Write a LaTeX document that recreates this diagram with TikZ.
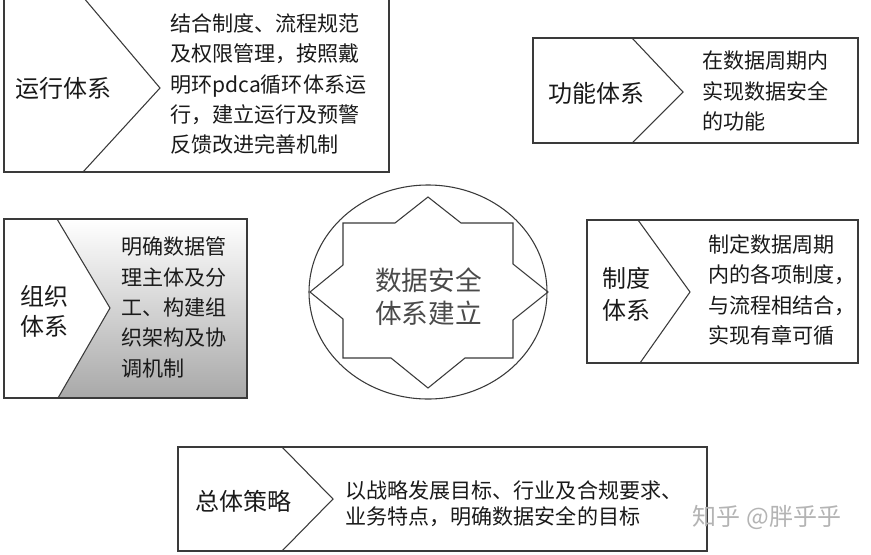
\documentclass[tikz,border=0pt]{standalone}
\usepackage{fontspec}
\newfontfamily\cjk{Noto Sans CJK SC}
\definecolor{linecol}{HTML}{3A3A3A}
\definecolor{txtcol}{HTML}{1A1A1A}
\definecolor{centcol}{HTML}{4A4A4A}
\definecolor{wmcol}{HTML}{B4B4B4}
\begin{document}
\begin{tikzpicture}[x=0.75pt,y=-0.75pt,
  boxline/.style={draw=linecol,line width=1.1pt},
  chev/.style={draw=linecol,line width=0.8pt,line join=miter},
  body/.style={anchor=west,inner sep=0pt,align=left,text=txtcol,
    font=\cjk\fontsize{15.8pt}{22.8pt}\selectfont},
  lab/.style={anchor=west,inner sep=0pt,align=left,text=txtcol,
    font=\cjk\fontsize{18pt}{22.5pt}\selectfont},
]
\useasboundingbox[fill=white] (0,0) rectangle (871,554);

% ---- box 1: 运行体系
\coordinate (b1a) at (4,-3);   \coordinate (b1b) at (389,172);
\draw[boxline] (b1a) rectangle (b1b);
\coordinate (c1t) at (83,-3); \coordinate (c1m) at (160,88); \coordinate (c1b) at (83,172);
\draw[chev] (c1t) -- (c1m) -- (c1b);
\node[lab] (l1) at (15,88) {运行体系};
\node[body] (t1) at (170,84) {结合制度、流程规范\\及权限管理，按照戴\\明环pdca循环体系运\\行，建立运行及预警\\反馈改进完善机制};

% ---- box 2: 功能体系
\coordinate (b2a) at (533,38);  \coordinate (b2b) at (858,143);
\draw[boxline] (b2a) rectangle (b2b);
\coordinate (c2t) at (632,38); \coordinate (c2m) at (683,92); \coordinate (c2b) at (632,143);
\draw[chev] (c2t) -- (c2m) -- (c2b);
\node[lab] (l2) at (548,93) {功能体系};
\node[body] (t2) at (702,91) {在数据周期内\\实现数据安全\\的功能};

% ---- box 3: 组织体系 (gradient)
\coordinate (b3a) at (4,219);  \coordinate (b3b) at (247,398);
\coordinate (c3t) at (57,219); \coordinate (c3m) at (110,308); \coordinate (c3b) at (58,398);
\shade[top color=white,bottom color=black!34] (c3t) -- (247,219) -- (247,398) -- (c3b) -- (c3m) -- cycle;
\draw[boxline] (b3a) rectangle (b3b);
\draw[chev] (c3t) -- (c3m) -- (c3b);
\node[lab] (l3) at (20,311) {组织\\体系};
\node[body] (t3) at (121,307.5) {明确数据管\\理主体及分\\工、构建组\\织架构及协\\调机制};

% ---- box 4: 制度体系
\coordinate (b4a) at (587,220);  \coordinate (b4b) at (858,363);
\draw[boxline] (b4a) rectangle (b4b);
\coordinate (c4t) at (638,220); \coordinate (c4m) at (690,292); \coordinate (c4b) at (640,363);
\draw[chev] (c4t) -- (c4m) -- (c4b);
\node[lab,font=\cjk\fontsize{18pt}{24pt}\selectfont] (l4) at (602,294) {制度\\体系};
\node[body] (t4) at (708,290) {制定数据周期\\内的各项制度，\\与流程相结合，\\实现有章可循};

% ---- box 5: 总体策略
\coordinate (b5a) at (178,447);  \coordinate (b5b) at (707,551);
\draw[boxline] (b5a) rectangle (b5b);
\coordinate (c5t) at (282,447); \coordinate (c5m) at (333,499); \coordinate (c5b) at (282,551);
\draw[chev] (c5t) -- (c5m) -- (c5b);
\node[lab] (l5) at (195,501) {总体策略};
\node[body,font=\cjk\fontsize{15.8pt}{19.5pt}\selectfont] (t5) at (345,503.5) {以战略发展目标、行业及合规要求、\\业务特点，明确数据安全的目标};

% ---- centre: ellipse + eight-point star
\draw[chev] (428,292) ellipse [x radius=89.25pt, y radius=80.25pt];
\draw[chev] (343,223) -- (395,223) -- (428,197) -- (461,223) -- (513,223) -- (513,264)
  -- (548,292) -- (513,320) -- (513,358) -- (465,358) -- (428,388) -- (391,358)
  -- (343,358) -- (343,319) -- (310,292) -- (343,265) -- cycle;
\node[inner sep=0pt,align=center,text=centcol,font=\cjk\fontsize{20pt}{24.75pt}\selectfont] (ctr) at (428.5,296.5) {数据安全\\体系建立};

% ---- watermark
\node[inner sep=0pt,text=wmcol,font=\cjk\fontsize{18pt}{20pt}\selectfont] (wm) at (767,517) {知乎 @胖乎乎};
\end{tikzpicture}
\end{document}
